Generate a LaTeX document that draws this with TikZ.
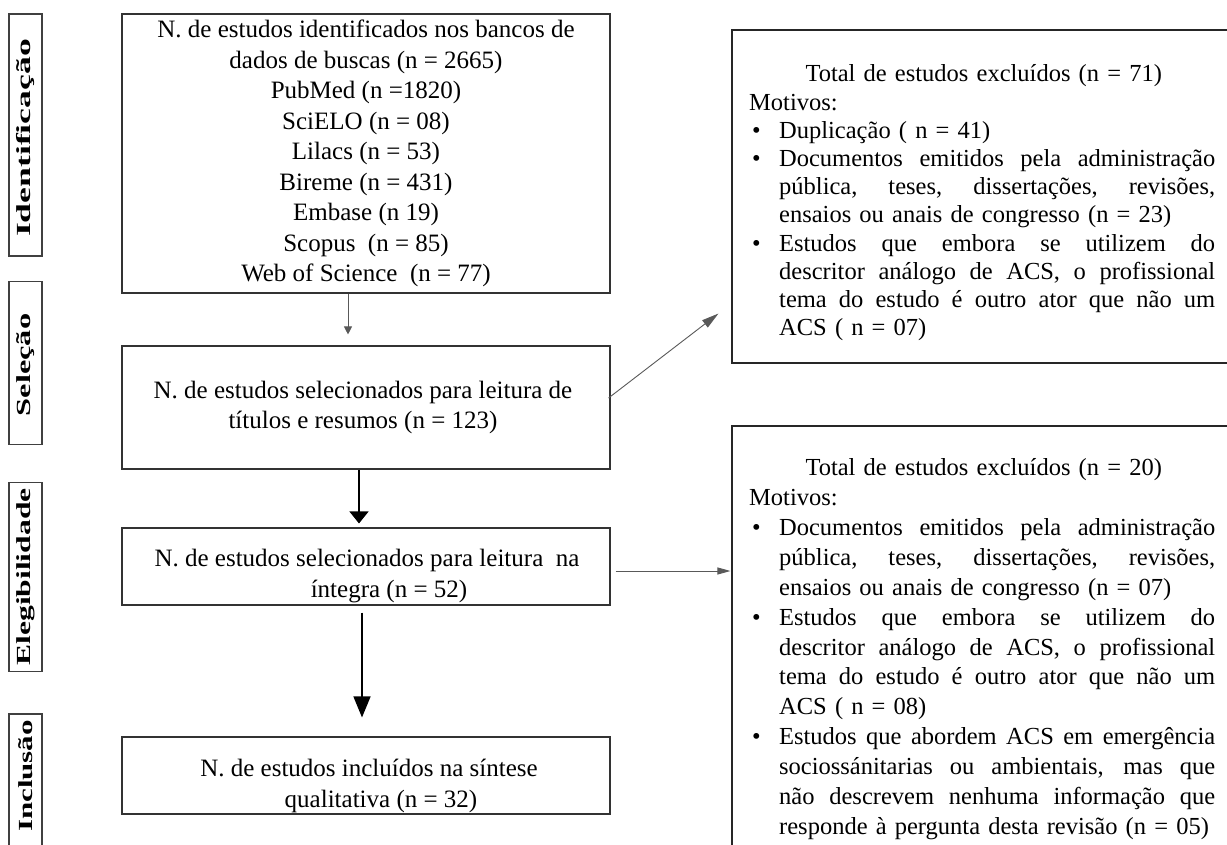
\documentclass[tikz,border=0pt]{standalone}
\usepackage{fontspec}
\setmainfont{Liberation Serif}
\usetikzlibrary{arrows.meta,calc}
\newcommand\bul{\makebox[30pt][l]{\hspace{3pt}•}}
\newcommand\ind{\hspace*{30pt}}
\newcommand\jl[1]{\makebox[436pt][s]{\spaceskip=.25em plus 3em minus .05em\relax #1}}
\newcommand\phl[2]{\scalebox{#1}[1]{#2}}
\begin{document}
\begin{tikzpicture}[x=1pt,y=-1pt,
  mainbox/.style={draw=black!80, line width=1.1pt, minimum width=488pt, inner sep=0pt},
  sidebox/.style={draw=black!85, line width=1.1pt, minimum width=508pt, inner sep=0pt},
  phase/.style={draw=black!75, line width=1.1pt, rotate=90, minimum height=33pt, inner sep=0pt},
  phasetext/.style={rotate=90, inner sep=0pt, font=\fontsize{20}{20}\selectfont\bfseries},
  maintext/.style={align=center, inner sep=0pt, font=\fontsize{25}{30.5}\selectfont},
  rtext/.style={align=left, text width=469pt, inner sep=0pt, anchor=base west},
  thinarr/.style={draw=black!65, line width=0.9pt, -{Triangle[length=8pt,width=8pt]}},
  diagarr/.style={draw=black!65, line width=0.9pt, -{Triangle[length=17pt,width=9pt]}},
  thickarr/.style={draw=black, line width=1.4pt}]
\useasboundingbox (0,0) rectangle (1227,845);
\clip (0,0) rectangle (1227,845);

% phase boxes
\node[phase, minimum width=242pt] (p1) at (25.5,135) {};
\node[phasetext] (pt1) at ($(p1.center)+(0,3)$) {\phl{1.78}{Identificação}};
\node[phase, minimum width=163pt] (p2) at (25.5,363) {};
\node[phasetext] (pt2) at ($(p2.center)+(0,2)$) {\phl{1.62}{Seleção}};
\node[phase, minimum width=189pt] (p3) at (25.5,577) {};
\node[phasetext] (pt3) at (p3.center) {\phl{1.58}{Elegibilidade}};
\node[phase, minimum width=136pt] (p4) at (25.5,782) {};
\node[phasetext] (pt4) at ($(p4.center)+(0,-6)$) {\phl{1.55}{Inclusão}};

% main boxes
\node[mainbox, minimum height=279pt] (b1) at (366,153.5) {};
\node[maintext] (t1) at (b1.center) {N. de estudos identificados nos bancos de\\dados de buscas (n = 2665)\\PubMed (n =1820)\\SciELO (n = 08)\\Lilacs (n = 53)\\Bireme (n = 431)\\Embase (n 19)\\Scopus\ \ (n = 85)\\Web of Science\ \ (n = 77)};

\node[mainbox, minimum height=123pt] (b2) at (366,407.5) {};
\node[maintext] (t2) at ($(b2.center)+(-3,0)$) {N. de estudos selecionados para leitura de\\títulos e resumos (n = 123)};

\node[mainbox, minimum height=77pt] (b3) at (366,566.5) {};
\node[maintext] (t3) at ($(b3.center)+(1,9.5)$) {N. de estudos selecionados para leitura\ \ na\\\hspace*{44pt}íntegra (n = 52)};

\node[mainbox, minimum height=77pt] (b4) at (366,775.5) {};
\node[maintext] (t4) at ($(b4.center)+(3,10.5)$) {N. de estudos incluídos na síntese\\\hspace*{24pt}qualitativa (n = 32)};

% side boxes
\node[sidebox, minimum height=333pt] (r1) at (986,196.5) {};
\node[rtext, font=\fontsize{24.5}{28.2}\selectfont] (rt1) at (749,82) {%
\makebox[469pt][c]{Total de estudos excluídos (n = 71)}\\
Motivos:\\
\bul Duplicação ( n = 41)\\
\bul\jl{Documentos emitidos pela administração}\\
\ind\jl{pública, teses, dissertações, revisões,}\\
\ind ensaios ou anais de congresso (n = 23)\\
\bul\jl{Estudos que embora se utilizem do}\\
\ind\jl{descritor análogo de ACS, o profissional}\\
\ind\jl{tema do estudo é outro ator que não um}\\
\ind ACS ( n = 07)};

\node[sidebox, minimum height=434pt] (r2) at (986,643) {};
\node[rtext, font=\fontsize{24.5}{30}\selectfont] (rt2) at (749,475) {%
\makebox[469pt][c]{Total de estudos excluídos (n = 20)}\\
Motivos:\\
\bul\jl{Documentos emitidos pela administração}\\
\ind\jl{pública, teses, dissertações, revisões,}\\
\ind ensaios ou anais de congresso (n = 07)\\
\bul\jl{Estudos que embora se utilizem do}\\
\ind\jl{descritor análogo de ACS, o profissional}\\
\ind\jl{tema do estudo é outro ator que não um}\\
\ind ACS ( n = 08)\\
\bul\jl{Estudos que abordem ACS em emergência}\\
\ind\jl{sociossánitarias ou ambientais, mas que}\\
\ind\jl{não descrevem nenhuma informação que}\\
\ind responde à pergunta desta revisão (n = 05)};

% connectors
\draw[thinarr] ($(b1.south)+(-18,0)$) -- ($(b2.north)+(-18,-11)$);
\draw[thickarr, -{Triangle[length=12pt,width=19pt]}] ($(b2.south)+(-7,0)$) -- ($(b3.north)+(-7,-4)$);
\draw[thickarr, -{Triangle[length=21pt,width=17pt]}] ($(b3.south)+(-4,7)$) -- ($(b4.north)+(-4,-19)$);
\draw[diagarr] ($(b2.east)+(-2,-9.5)$) -- ($(r1.south west)+(-13,-50)$);
\draw[thinarr, -{Triangle[length=13pt,width=7pt]}] ($(b3.east)+(5,4.5)$) -- ($(b3.east -| r2.west)+(-1,4.5)$);
\end{tikzpicture}
\end{document}
